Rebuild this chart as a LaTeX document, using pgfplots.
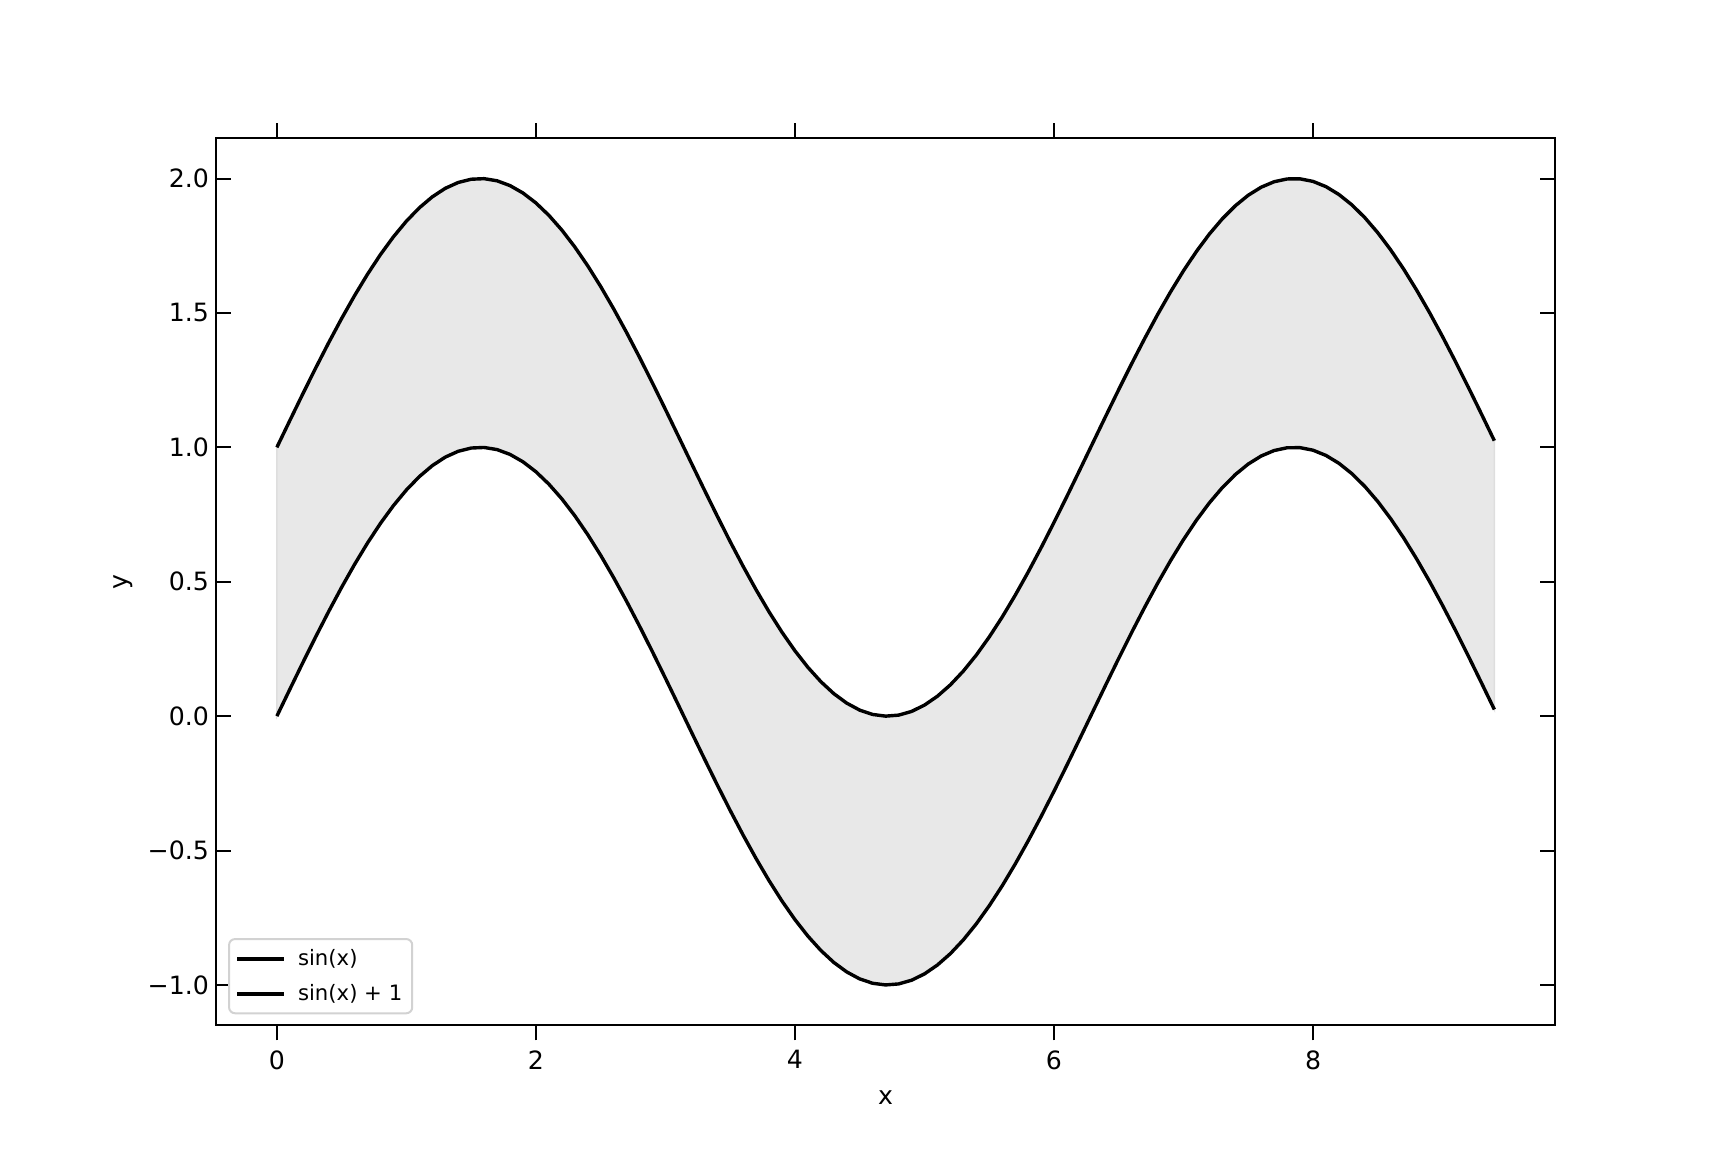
\documentclass[border=0pt]{standalone}
\usepackage{fontspec}
\setmainfont{DejaVu Sans}
\usepackage{pgfplots}
\usepackage{pgfplotstable}
\pgfplotsset{compat=1.18}
\definecolor{fillgray}{RGB}{232,232,232}
\definecolor{edgegray}{RGB}{222,222,222}
\definecolor{leggray}{RGB}{210,210,210}

\pgfplotstableread{
x s t
0.0 0.0000 1.0000
0.1 0.0998 1.0998
0.2 0.1987 1.1987
0.3 0.2955 1.2955
0.4 0.3894 1.3894
0.5 0.4794 1.4794
0.6 0.5646 1.5646
0.7 0.6442 1.6442
0.8 0.7174 1.7174
0.9 0.7833 1.7833
1.0 0.8415 1.8415
1.1 0.8912 1.8912
1.2 0.9320 1.9320
1.3 0.9636 1.9636
1.4 0.9854 1.9854
1.5 0.9975 1.9975
1.6 0.9996 1.9996
1.7 0.9917 1.9917
1.8 0.9738 1.9738
1.9 0.9463 1.9463
2.0 0.9093 1.9093
2.1 0.8632 1.8632
2.2 0.8085 1.8085
2.3 0.7457 1.7457
2.4 0.6755 1.6755
2.5 0.5985 1.5985
2.6 0.5155 1.5155
2.7 0.4274 1.4274
2.8 0.3350 1.3350
2.9 0.2392 1.2392
3.0 0.1411 1.1411
3.1 0.0416 1.0416
3.2 -0.0584 0.9416
3.3 -0.1577 0.8423
3.4 -0.2555 0.7445
3.5 -0.3508 0.6492
3.6 -0.4425 0.5575
3.7 -0.5298 0.4702
3.8 -0.6119 0.3881
3.9 -0.6878 0.3122
4.0 -0.7568 0.2432
4.1 -0.8183 0.1817
4.2 -0.8716 0.1284
4.3 -0.9162 0.0838
4.4 -0.9516 0.0484
4.5 -0.9775 0.0225
4.6 -0.9937 0.0063
4.7 -0.9999 0.0001
4.8 -0.9962 0.0038
4.9 -0.9825 0.0175
5.0 -0.9589 0.0411
5.1 -0.9258 0.0742
5.2 -0.8835 0.1165
5.3 -0.8323 0.1677
5.4 -0.7728 0.2272
5.5 -0.7055 0.2945
5.6 -0.6313 0.3687
5.7 -0.5507 0.4493
5.8 -0.4646 0.5354
5.9 -0.3739 0.6261
6.0 -0.2794 0.7206
6.1 -0.1822 0.8178
6.2 -0.0831 0.9169
6.3 0.0168 1.0168
6.4 0.1165 1.1165
6.5 0.2151 1.2151
6.6 0.3115 1.3115
6.7 0.4048 1.4048
6.8 0.4941 1.4941
6.9 0.5784 1.5784
7.0 0.6570 1.6570
7.1 0.7290 1.7290
7.2 0.7937 1.7937
7.3 0.8504 1.8504
7.4 0.8987 1.8987
7.5 0.9380 1.9380
7.6 0.9679 1.9679
7.7 0.9882 1.9882
7.8 0.9985 1.9985
7.9 0.9989 1.9989
8.0 0.9894 1.9894
8.1 0.9699 1.9699
8.2 0.9407 1.9407
8.3 0.9022 1.9022
8.4 0.8546 1.8546
8.5 0.7985 1.7985
8.6 0.7344 1.7344
8.7 0.6630 1.6630
8.8 0.5849 1.5849
8.9 0.5010 1.5010
9.0 0.4121 1.4121
9.1 0.3191 1.3191
9.2 0.2229 1.2229
9.3 0.1245 1.1245
9.4 0.0248 1.0248
}\datatab

% band outline: upper curve forward, lower curve backward
\pgfplotstableread{
x y
0.0 1.0000
0.1 1.0998
0.2 1.1987
0.3 1.2955
0.4 1.3894
0.5 1.4794
0.6 1.5646
0.7 1.6442
0.8 1.7174
0.9 1.7833
1.0 1.8415
1.1 1.8912
1.2 1.9320
1.3 1.9636
1.4 1.9854
1.5 1.9975
1.6 1.9996
1.7 1.9917
1.8 1.9738
1.9 1.9463
2.0 1.9093
2.1 1.8632
2.2 1.8085
2.3 1.7457
2.4 1.6755
2.5 1.5985
2.6 1.5155
2.7 1.4274
2.8 1.3350
2.9 1.2392
3.0 1.1411
3.1 1.0416
3.2 0.9416
3.3 0.8423
3.4 0.7445
3.5 0.6492
3.6 0.5575
3.7 0.4702
3.8 0.3881
3.9 0.3122
4.0 0.2432
4.1 0.1817
4.2 0.1284
4.3 0.0838
4.4 0.0484
4.5 0.0225
4.6 0.0063
4.7 0.0001
4.8 0.0038
4.9 0.0175
5.0 0.0411
5.1 0.0742
5.2 0.1165
5.3 0.1677
5.4 0.2272
5.5 0.2945
5.6 0.3687
5.7 0.4493
5.8 0.5354
5.9 0.6261
6.0 0.7206
6.1 0.8178
6.2 0.9169
6.3 1.0168
6.4 1.1165
6.5 1.2151
6.6 1.3115
6.7 1.4048
6.8 1.4941
6.9 1.5784
7.0 1.6570
7.1 1.7290
7.2 1.7937
7.3 1.8504
7.4 1.8987
7.5 1.9380
7.6 1.9679
7.7 1.9882
7.8 1.9985
7.9 1.9989
8.0 1.9894
8.1 1.9699
8.2 1.9407
8.3 1.9022
8.4 1.8546
8.5 1.7985
8.6 1.7344
8.7 1.6630
8.8 1.5849
8.9 1.5010
9.0 1.4121
9.1 1.3191
9.2 1.2229
9.3 1.1245
9.4 1.0248
9.4 0.0248
9.3 0.1245
9.2 0.2229
9.1 0.3191
9.0 0.4121
8.9 0.5010
8.8 0.5849
8.7 0.6630
8.6 0.7344
8.5 0.7985
8.4 0.8546
8.3 0.9022
8.2 0.9407
8.1 0.9699
8.0 0.9894
7.9 0.9989
7.8 0.9985
7.7 0.9882
7.6 0.9679
7.5 0.9380
7.4 0.8987
7.3 0.8504
7.2 0.7937
7.1 0.7290
7.0 0.6570
6.9 0.5784
6.8 0.4941
6.7 0.4048
6.6 0.3115
6.5 0.2151
6.4 0.1165
6.3 0.0168
6.2 -0.0831
6.1 -0.1822
6.0 -0.2794
5.9 -0.3739
5.8 -0.4646
5.7 -0.5507
5.6 -0.6313
5.5 -0.7055
5.4 -0.7728
5.3 -0.8323
5.2 -0.8835
5.1 -0.9258
5.0 -0.9589
4.9 -0.9825
4.8 -0.9962
4.7 -0.9999
4.6 -0.9937
4.5 -0.9775
4.4 -0.9516
4.3 -0.9162
4.2 -0.8716
4.1 -0.8183
4.0 -0.7568
3.9 -0.6878
3.8 -0.6119
3.7 -0.5298
3.6 -0.4425
3.5 -0.3508
3.4 -0.2555
3.3 -0.1577
3.2 -0.0584
3.1 0.0416
3.0 0.1411
2.9 0.2392
2.8 0.3350
2.7 0.4274
2.6 0.5155
2.5 0.5985
2.4 0.6755
2.3 0.7457
2.2 0.8085
2.1 0.8632
2.0 0.9093
1.9 0.9463
1.8 0.9738
1.7 0.9917
1.6 0.9996
1.5 0.9975
1.4 0.9854
1.3 0.9636
1.2 0.9320
1.1 0.8912
1.0 0.8415
0.9 0.7833
0.8 0.7174
0.7 0.6442
0.6 0.5646
0.5 0.4794
0.4 0.3894
0.3 0.2955
0.2 0.1987
0.1 0.0998
0.0 0.0000
}\bandtab

\begin{document}
\begin{tikzpicture}
\path[use as bounding box] (0,0) rectangle (864pt,576pt);
\pgfplotsset{common/.style={
  scale only axis, width=669.6pt, height=443.52pt,
  at={(108pt,63.36pt)}, anchor=south west,
  xmin=-0.47, xmax=9.87, ymin=-1.15, ymax=2.15,
  axis line style={line width=1pt, black},
  major tick length=7.5pt,
  tick style={black, line width=1pt},
  minor tick num=0,
  tick label style={font=\fontsize{12.6}{15}\selectfont},
  label style={font=\fontsize{12.6}{15}\selectfont},
}}
% axis carrying the x ticks (pointing outward)
\begin{axis}[common, tick align=outside,
  xtick={0,2,4,6,8}, xticklabels={0,2,4,6,8},
  xtick pos=both, xticklabel pos=lower,
  xticklabel style={yshift=-1.5pt},
  ytick={-1}, yticklabels={}, ytick style={draw=none},
  xlabel={x},
  xlabel style={at={(axis description cs:0.5,-0.082)}, anchor=center},
]
\addplot[draw=none, forget plot] coordinates {(0,0) (1,1)};
\end{axis}
% main axis with y ticks (pointing inward)
\begin{axis}[common, tick align=inside,
  xtick={0}, xticklabels={}, xtick style={draw=none},
  ytick={-1,-0.5,0,0.5,1,1.5,2},
  yticklabels={−1.0,−0.5,0.0,0.5,1.0,1.5,2.0},
  ytick pos=both, yticklabel pos=left,
  ylabel={y},
  ylabel style={at={(axis description cs:-0.0694,0.5)}, anchor=center},
  legend style={at={(axis description cs:0.009,0.0124)}, anchor=south west,
    draw=leggray, line width=1pt, rounded corners=3pt,
    font=\fontsize{10.6}{12.5}\selectfont, inner xsep=3pt, inner ysep=3pt,
    row sep=4pt},
  legend cell align=left,
  legend image code/.code={\draw[black, line width=2pt] (0pt,0pt) -- (23.5pt,0pt); \path[draw=none] (0pt,0pt) -- (28.5pt,0pt);},
]
\addplot[fill=fillgray, draw=edgegray, line width=0.8pt, forget plot] table[x=x,y=y]{\bandtab} -- cycle;
\addplot[black, line width=1.7pt, line join=round] table[x=x,y=s]{\datatab};
\addlegendentry{sin(x)}
\addplot[black, line width=1.7pt, line join=round] table[x=x,y=t]{\datatab};
\addlegendentry{sin(x) + 1}
\end{axis}
\end{tikzpicture}
\end{document}
